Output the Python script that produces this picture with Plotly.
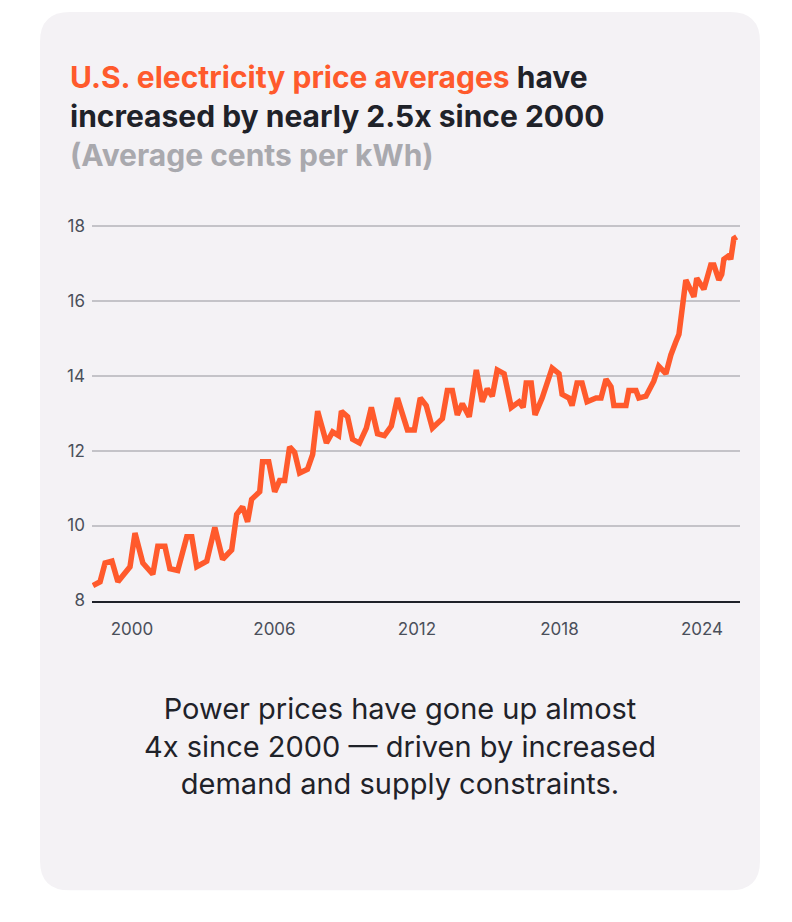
import plotly.graph_objects as go

years = [1998.36,1998.66,1998.87,1999.16,1999.41,1999.71,1999.92,2000.13,2000.46,2000.88,
 2001.09,2001.39,2001.60,2001.93,2002.31,2002.52,2002.73,2003.15,2003.49,2003.82,
 2004.20,2004.41,2004.66,2004.87,2005.04,2005.38,2005.50,2005.76,2006.01,2006.22,
 2006.43,2006.64,2006.85,2007.06,2007.39,2007.61,2007.82,2008.19,2008.45,2008.70,
 2008.82,2009.08,2009.29,2009.58,2009.87,2010.08,2010.34,2010.63,2010.92,2011.18,
 2011.60,2011.89,2012.14,2012.39,2012.65,2013.07,2013.28,2013.49,2013.70,2013.91,
 2014.20,2014.50,2014.75,2014.96,2015.17,2015.38,2015.67,2015.97,2016.30,2016.47,
 2016.60,2016.81,2016.97,2017.27,2017.69,2017.98,2018.11,2018.40,2018.53,2018.74,
 2018.95,2019.16,2019.54,2019.75,2019.96,2020.17,2020.29,2020.59,2020.80,2020.92,
 2021.22,2021.34,2021.64,2021.97,2022.18,2022.48,2022.69,2022.90,2023.03,2023.24,
 2023.32,2023.66,2023.78,2024.08,2024.37,2024.50,2024.71,2024.83,2024.92,2025.13,
 2025.21,2025.34,2025.46]
prices = [8.4,8.5,9.0,9.05,8.5,8.75,8.9,9.8,9.0,8.7,
 9.45,9.45,8.85,8.8,9.7,9.7,8.9,9.05,9.95,9.1,
 9.35,10.3,10.5,10.1,10.7,10.9,11.7,11.7,10.9,11.2,
 11.2,12.1,11.95,11.4,11.5,11.9,13.05,12.2,12.5,12.4,
 13.05,12.9,12.3,12.2,12.6,13.15,12.45,12.4,12.65,13.4,
 12.55,12.55,13.4,13.2,12.6,12.85,13.6,13.6,12.95,13.25,
 12.9,14.15,13.3,13.65,13.45,14.15,14.05,13.15,13.3,13.15,
 13.8,13.8,12.95,13.4,14.2,14.05,13.5,13.4,13.2,13.8,
 13.8,13.3,13.4,13.4,13.9,13.7,13.2,13.2,13.2,13.6,
 13.6,13.4,13.45,13.85,14.25,14.05,14.55,14.9,15.1,16.15,
 16.55,16.1,16.6,16.3,16.95,16.95,16.55,16.7,17.1,17.2,
 17.1,17.65,17.7]
x_ticks = [2000, 2006, 2012, 2018, 2024]
y_ticks = [8, 10, 12, 14, 16, 18]

W, H = 792, 922
OFF = 8  # page body margin
X0, X1 = 1998.32, 2025.6
Y0, Y1 = 8, 18.3
fig = go.Figure(go.Scatter(x=years, y=prices, mode="lines",
    line=dict(color="#ff5a2c", width=5.5), hoverinfo="skip", cliponaxis=False))

def px(x): return (x - OFF) / W
def py(y): return 1 - (y - OFF) / H

r = 30
l, t, rr, b = px(40), py(12), px(760), py(900)
rx, ry = r / W, r / H
path = (f"M {l+rx},{t} L {rr-rx},{t} Q {rr},{t} {rr},{t-ry} L {rr},{b+ry} Q {rr},{b} {rr-rx},{b} "
        f"L {l+rx},{b} Q {l},{b} {l},{b+ry} L {l},{t-ry} Q {l},{t} {l+rx},{t} Z")
shapes = [dict(type="path", path=path, xref="paper", yref="paper",
               fillcolor="#f4f2f5", line=dict(width=0), layer="below")]

ann = []
ann.append(dict(x=px(68), y=py(58), xref="paper", yref="paper", xanchor="left", yanchor="top",
    align="left", showarrow=False,
    text=("<span style='color:#ff5a2c'>U.S. electricity price averages</span> have<br>"
          "increased by nearly 2.5x since 2000<br>"
          "<span style='color:#a9a9ae'>(Average cents per kWh)</span>"),
    font=dict(size=30, color="#1f2229", family="Inter, sans-serif", weight="bold")))
ann.append(dict(x=px(400), y=py(696), xref="paper", yref="paper", xanchor="center", yanchor="top",
    showarrow=False, align="center",
    text="Power prices have gone up almost<br>4x since 2000 — driven by increased<br>demand and supply constraints.",
    font=dict(size=29, color="#1f2229", family="Inter, sans-serif")))

fig.update_layout(width=W, height=H, margin=dict(l=0, r=0, t=0, b=0),
    paper_bgcolor="white", plot_bgcolor="rgba(0,0,0,0)", showlegend=False,
    font=dict(family="Inter, sans-serif"),
    xaxis=dict(domain=[px(92), px(740)], range=[X0, X1], tickvals=x_ticks, showgrid=False,
               zeroline=False, ticks="", showline=True, linecolor="#1f2229", linewidth=1.5,
               tickfont=dict(size=17, color="#4a4f5a"), ticklabelstandoff=12),
    yaxis=dict(domain=[py(607), py(607 - 10.3 * 37.9)], range=[Y0, Y1], tickvals=y_ticks,
               showgrid=True, gridcolor="#c4c3c8", gridwidth=1.5, zeroline=False, ticks="",
               tickfont=dict(size=17, color="#4a4f5a"), ticklabelstandoff=6),
    shapes=shapes, annotations=ann)
fig.write_html("out.html")
